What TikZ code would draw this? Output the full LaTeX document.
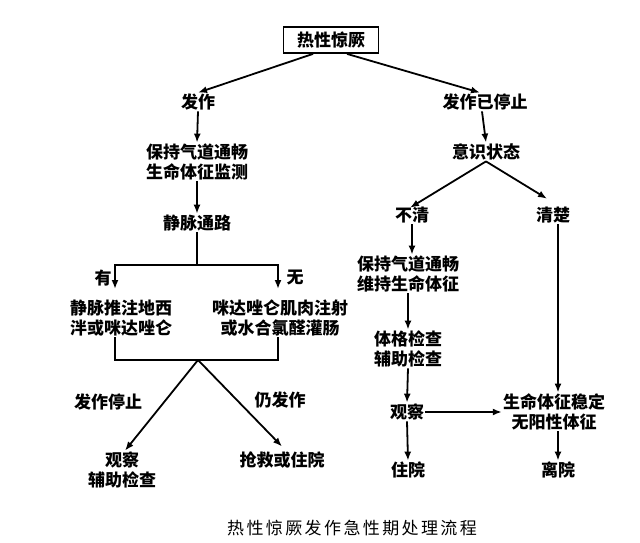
\documentclass[tikz,border=0pt]{standalone}
\usepackage{fontspec}
\newfontfamily\cjk{Noto Sans CJK SC}
\usetikzlibrary{arrows.meta}
\newcommand\cspc{\hspace{2.4pt}}
\begin{document}
\begin{tikzpicture}[x=1pt,y=-1pt,
  lbl/.style={font=\cjk\bfseries\fontsize{17}{20}\selectfont, align=center, inner sep=1pt},
  boxn/.style={lbl, draw, line width=1.8pt, minimum width=95pt, minimum height=26pt},
  ln/.style={line width=1.8pt},
  arr/.style={ln, -{Latex[length=9pt,width=7pt]}}]
\useasboundingbox (0,0) rectangle (640,543);
% nodes
\node[boxn] (top) at (331,40) {热性惊厥};
\node[lbl] (fz) at (198,102) {发作};
\node[lbl] (stop) at (485,102) {发作已停止};
\node[lbl] (keep1) at (197,162) {保持气道通畅\\生命体征监测};
\node[lbl] (iv) at (197,223) {静脉通路};
\node[lbl] (you) at (103,278) {有};
\node[lbl] (wu) at (295,278) {无};
\node[lbl] (inj1) at (121,318) {静脉推注地西\\泮或咪达唑仑};
\node[lbl] (inj2) at (280,318) {咪达唑仑肌肉注射\\或水合氯醛灌肠};
\node[lbl] (lstop) at (108,402) {发作停止};
\node[lbl] (lcont) at (280,400) {仍发作};
\node[lbl] (obs1) at (122,470) {观察\\辅助检查};
\node[lbl] (rescue) at (282,460) {抢救或住院};
\node[lbl] (state) at (486,152) {意识状态};
\node[lbl] (unclear) at (412,215) {不清};
\node[lbl] (clear) at (553,215) {清楚};
\node[lbl] (keep2) at (408,274) {保持气道通畅\\维持生命体征};
\node[lbl] (exam) at (408,349) {体格检查\\辅助检查};
\node[lbl] (obs2) at (407,412) {观察};
\node[lbl] (stable) at (554,412) {生命体征稳定\\无阳性体征};
\node[lbl] (hosp) at (408,470) {住院};
\node[lbl] (leave) at (558,470) {离院};
\node[font=\cjk\fontsize{17}{20}\selectfont] (cap) at (352,528) {热\cspc 性\cspc 惊\cspc 厥\cspc 发\cspc 作\cspc 急\cspc 性\cspc 期\cspc 处\cspc 理\cspc 流\cspc 程};
% coordinates
\coordinate (bar) at (197,265);
\coordinate (a1) at (115,289);
\coordinate (a2) at (278,289);
\coordinate (c1) at (115,360);
\coordinate (c2) at (278,360);
\coordinate (cm) at (198,360);
% connectors
\draw[arr] ([xshift=-18pt]top.south) -- (fz.north);
\draw[arr] ([xshift=16pt]top.south) -- ([xshift=-5pt]stop.north);
\draw[arr] (fz.south) -- (keep1.north);
\draw[arr] (keep1.south) -- (iv.north);
\draw[ln] (iv.south) -- (bar);
\draw[arr] (bar) -| (a1);
\draw[arr] (bar) -| (a2);
\draw[ln] (inj1.south -| c1) -- (c1) -- (c2) -- (inj2.south -| c2);
\draw[arr] (cm) -- ([xshift=3pt]obs1.north);
\draw[arr] (cm) -- ([yshift=4pt]rescue.north);
\draw[arr] ([xshift=-3pt]stop.south) -- (state.north);
\draw[arr] (state.south) -- ([xshift=-2pt,yshift=-2pt]unclear.north);
\draw[arr] (state.south) -- ([xshift=-6pt,yshift=7pt]clear.north);
\draw[arr] (unclear.south) -- (unclear.south |- keep2.north);
\draw[arr] (keep2.south) -- (exam.north);
\draw[arr] (exam.south) -- (obs2.north);
\draw[arr] (obs2.east) -- (stable.west);
\draw[arr] (obs2.south) -- (hosp.north);
\draw[arr] ([xshift=5pt]clear.south) -- ([xshift=5pt]clear.south |- stable.north);
\draw[arr] ([xshift=4pt]stable.south) -- (leave.north);
\end{tikzpicture}
\end{document}
